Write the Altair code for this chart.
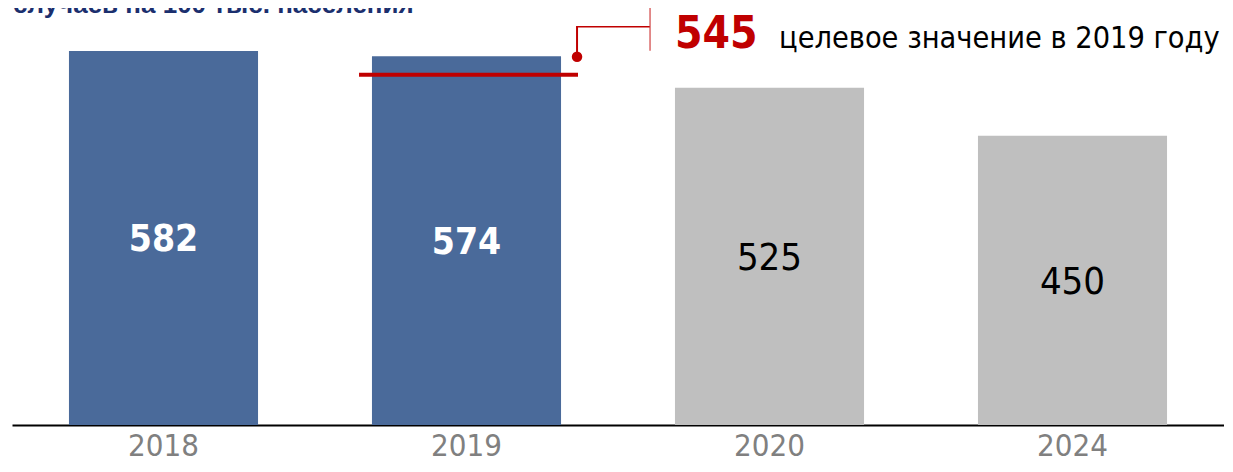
import altair as alt
import pandas as pd

# ---- data ----
years = ["2018", "2019", "2020", "2024"]
values = [582, 574, 525, 450]
kinds = ["факт", "факт", "план", "план"]
target_year = "2019"
target_value = 545
target_label = "545"
target_text = "целевое значение в 2019 году"
subtitle = "случаев на 100 тыс. населения"

BLUE = "#4A6A9A"
GREY = "#BFBFBF"
RED = "#C00000"
NAVY = "#1B2F6E"
TAHOMA = "DejaVu Sans Condensed, DejaVu Sans, Liberation Sans"
NARROW = "Liberation Sans Narrow, DejaVu Sans Condensed, Liberation Sans"

df = pd.DataFrame({"year": years, "value": values, "kind": kinds})
tdf = pd.DataFrame({"year": [target_year], "value": [target_value],
                    "label": [target_label], "text": [target_text]})
sdf = pd.DataFrame({"text": [subtitle]})

xscale = alt.Scale(domain=years, paddingInner=0.376, paddingOuter=0.188)
yscale = alt.Scale(domain=[0, 649], nice=False, zero=True)

x_enc = alt.X("year:N", scale=xscale,
              axis=alt.Axis(title=None, ticks=False, tickSize=0, labelAngle=0,
                            domainColor="#000000", domainWidth=2,
                            labelColor="#808080", labelFont=NARROW, labelFontSize=31,
                            labelBaseline="alphabetic", labelPadding=30))
y_enc = alt.Y("value:Q", scale=yscale, axis=None)

bars = alt.Chart(df).mark_bar().encode(
    x=x_enc,
    y=y_enc,
    color=alt.Color("kind:N", scale=alt.Scale(domain=["факт", "план"], range=[BLUE, GREY]),
                    legend=None),
)

mid = alt.Chart(df).transform_calculate(mid="datum.value / 2")
lab_fact = mid.transform_filter(alt.datum.kind == "факт").mark_text(
    font=TAHOMA, fontSize=37, fontWeight="bold", color="white", baseline="middle", dy=2
).encode(x=alt.X("year:N", scale=xscale), y=alt.Y("mid:Q", scale=yscale), text="value:Q")
lab_plan = mid.transform_filter(alt.datum.kind == "план").mark_text(
    font=TAHOMA, fontSize=38, color="black", baseline="middle", dy=3
).encode(x=alt.X("year:N", scale=xscale), y=alt.Y("mid:Q", scale=yscale), text="value:Q")

tb = alt.Chart(tdf)
xend = alt.X("year:N", scale=xscale, bandPosition=1)
ty = alt.Y("value:Q", scale=yscale)

# x = right edge of the 2019 band, x2 = centre of the band
target_line = tb.mark_rule(color=RED, strokeWidth=4, xOffset=-202, x2Offset=111.5).encode(
    x=xend, x2=alt.X2("year"), y=ty)
dot = tb.mark_point(filled=True, color=RED, size=110, opacity=1, xOffset=16, yOffset=-18).encode(
    x=xend, y=ty)
conn_v = tb.mark_rule(color=RED, strokeWidth=2, xOffset=16, yOffset=-18, y2Offset=-48).encode(
    x=xend, y=ty, y2=alt.Y2("value"))
conn_h = tb.mark_rule(color=RED, strokeWidth=1.5, xOffset=15, x2Offset=183.5, yOffset=-48).encode(
    x=xend, x2=alt.X2("year"), y=ty)
sep = tb.mark_rule(color="#D04040", strokeWidth=1.2, xOffset=89, yOffset=-69, y2Offset=-24).encode(
    x=xend, y=ty, y2=alt.Y2("value"))
big = tb.mark_text(font=TAHOMA, fontSize=44, fontWeight="bold", color=RED, align="left",
                   baseline="alphabetic", dx=114, dy=-27).encode(x=xend, y=ty, text="label:N")
desc = tb.mark_text(font=TAHOMA, fontSize=30.4, color="black", align="left",
                    baseline="alphabetic", dx=218, dy=-27).encode(x=xend, y=ty, text="text:N")

title = alt.Chart(sdf).mark_text(font="Liberation Sans", fontSize=26, fontWeight="bold",
                                 color=NAVY, align="left", baseline="alphabetic").encode(
    x=alt.value(1), y=alt.value(5), text="text:N")

chart = alt.layer(bars, lab_fact, lab_plan, target_line, conn_v, conn_h, sep, dot, big, desc, title).properties(
    width=1212, height=417,
    autosize=alt.AutoSizeParams(type="none"),
    padding={"left": 4, "top": 0, "right": 0, "bottom": 39},
).configure_view(stroke=None)

chart.save("out.html", embed_options={"renderer": "svg", "actions": False})
